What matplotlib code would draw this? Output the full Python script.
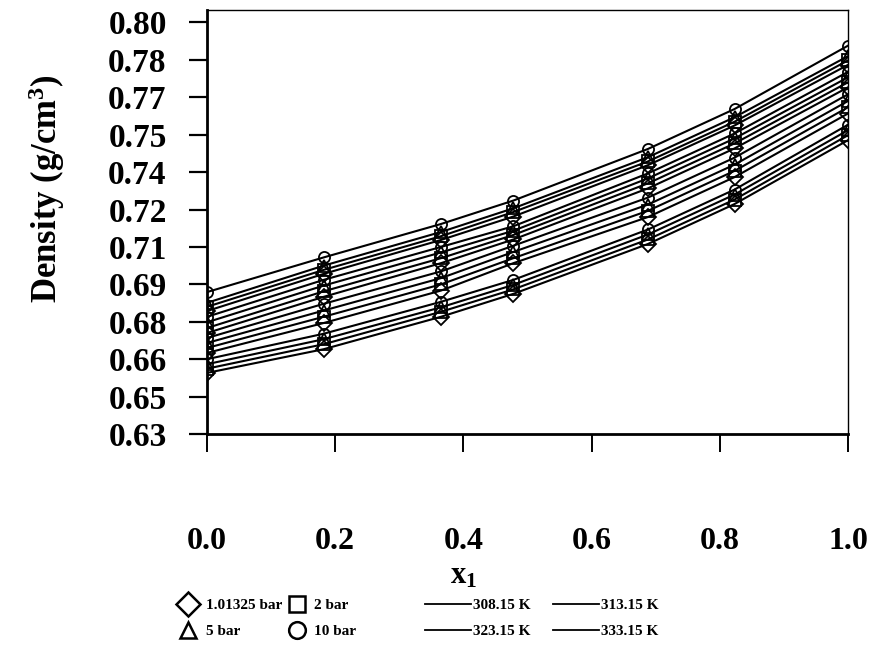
import matplotlib
matplotlib.use('Agg')
import matplotlib.pyplot as plt
from matplotlib.lines import Line2D
from matplotlib.ticker import FixedLocator, FixedFormatter

plt.rcParams['font.family'] = ['Liberation Serif', 'DejaVu Serif']
plt.rcParams['font.weight'] = 'bold'
plt.rcParams['mathtext.fontset'] = 'custom'
plt.rcParams['mathtext.rm'] = 'Liberation Serif:bold'
plt.rcParams['mathtext.it'] = 'Liberation Serif:bold'
plt.rcParams['mathtext.bf'] = 'Liberation Serif:bold'

# mole fraction of component 1
x1 = [0.0, 0.182, 0.365, 0.478, 0.688, 0.823, 1.0]

pressures = ['1.01325 bar', '2 bar', '5 bar', '10 bar']
temperatures = ['308.15 K', '313.15 K', '323.15 K', '333.15 K']

# density (g/cm3), rows follow the pressures list
rho_308 = [
    [0.6793, 0.6942, 0.7078, 0.7172, 0.7378, 0.7537, 0.7780],
    [0.6810, 0.6958, 0.7093, 0.7190, 0.7393, 0.7552, 0.7798],
    [0.6826, 0.6975, 0.7110, 0.7205, 0.7410, 0.7570, 0.7815],
    [0.6869, 0.7008, 0.7142, 0.7236, 0.7443, 0.7603, 0.7857],
]
rho_313 = [
    [0.6705, 0.6850, 0.6985, 0.7080, 0.7285, 0.7445, 0.7690],
    [0.6725, 0.6872, 0.7005, 0.7098, 0.7305, 0.7465, 0.7710],
    [0.6748, 0.6895, 0.7028, 0.7115, 0.7325, 0.7485, 0.7730],
    [0.6770, 0.6918, 0.7050, 0.7133, 0.7345, 0.7505, 0.7752],
]
rho_323 = [
    [0.6625, 0.6745, 0.6875, 0.6985, 0.7170, 0.7330, 0.7585],
    [0.6645, 0.6770, 0.6900, 0.7005, 0.7195, 0.7355, 0.7610],
    [0.6665, 0.6795, 0.6925, 0.7030, 0.7220, 0.7380, 0.7635],
    [0.6685, 0.6822, 0.6952, 0.7055, 0.7248, 0.7408, 0.7662],
]
rho_333 = [
    [0.6545, 0.6640, 0.6770, 0.6862, 0.7062, 0.7222, 0.7478],
    [0.6562, 0.6660, 0.6790, 0.6880, 0.7080, 0.7240, 0.7498],
    [0.6580, 0.6680, 0.6808, 0.6898, 0.7100, 0.7260, 0.7518],
    [0.6600, 0.6702, 0.6830, 0.6918, 0.7120, 0.7280, 0.7540],
]

yticks = [0.630, 0.645, 0.660, 0.675, 0.690, 0.705, 0.720, 0.735, 0.750, 0.765, 0.780, 0.795]
ytick_labels = ['0.63', '0.65', '0.66', '0.68', '0.69', '0.71', '0.72', '0.74', '0.75', '0.77', '0.78', '0.80']
xticks = [0.0, 0.2, 0.4, 0.6, 0.8, 1.0]
xtick_labels = ['0.0', '0.2', '0.4', '0.6', '0.8', '1.0']

markers = ['D', 's', '^', 'o']

fig = plt.figure(figsize=(8.76, 6.68), dpi=100)
ax = fig.add_axes([0.2363, 0.3503, 0.7317, 0.6347])

for rho in [rho_333, rho_323, rho_313, rho_308]:
    for i, row in enumerate(rho):
        ax.plot(x1, row, color='black', lw=1.5, marker=markers[i], ms=8,
                mfc='none', mec='black', mew=1.3)

ax.set_xlim(0, 1.0)
ax.set_ylim(0.63, 0.80)
ax.yaxis.set_major_locator(FixedLocator(yticks))
ax.yaxis.set_major_formatter(FixedFormatter(ytick_labels))
ax.xaxis.set_major_locator(FixedLocator(xticks))
ax.xaxis.set_major_formatter(FixedFormatter(xtick_labels))

ax.tick_params(axis='y', direction='out', length=13, width=1.6, labelsize=24, pad=16)
ax.tick_params(axis='x', direction='out', length=13, width=1.4, labelsize=23, pad=54)
for s in ['left', 'bottom']:
    ax.spines[s].set_linewidth(2.0)
for s in ['top', 'right']:
    ax.spines[s].set_linewidth(1.0)

ax.set_ylabel('Density (g/cm$^3$)', fontsize=25, fontweight='bold', labelpad=30, y=0.58)
ax.set_xlabel('x$_1$', fontsize=22, fontweight='bold', labelpad=4, x=0.40)

# legends under the plot
p_handles = [Line2D([], [], ls='none', marker=m, ms=12, mfc='none', mec='black', mew=1.8)
             for m in markers]
p_order = [0, 2, 1, 3]
fig.legend([p_handles[k] for k in p_order], [pressures[k] for k in p_order],
           ncol=2, loc='upper left', bbox_to_anchor=(0.186, 0.125),
           frameon=False, prop={'size': 11, 'weight': 'bold'}, handlelength=1.5,
           handletextpad=0.4, columnspacing=0.2, labelspacing=0.8)
t_handles = [Line2D([], [], color='black', lw=1.3) for _ in temperatures]
t_order = [0, 2, 1, 3]
fig.legend([t_handles[k] for k in t_order], [temperatures[k] for k in t_order],
           ncol=2, loc='upper left', bbox_to_anchor=(0.47, 0.125),
           frameon=False, prop={'size': 11, 'weight': 'bold'},
           handlelength=3.0, handletextpad=0.1, columnspacing=1.5, labelspacing=0.8)

fig.savefig('out.png', dpi=100)
